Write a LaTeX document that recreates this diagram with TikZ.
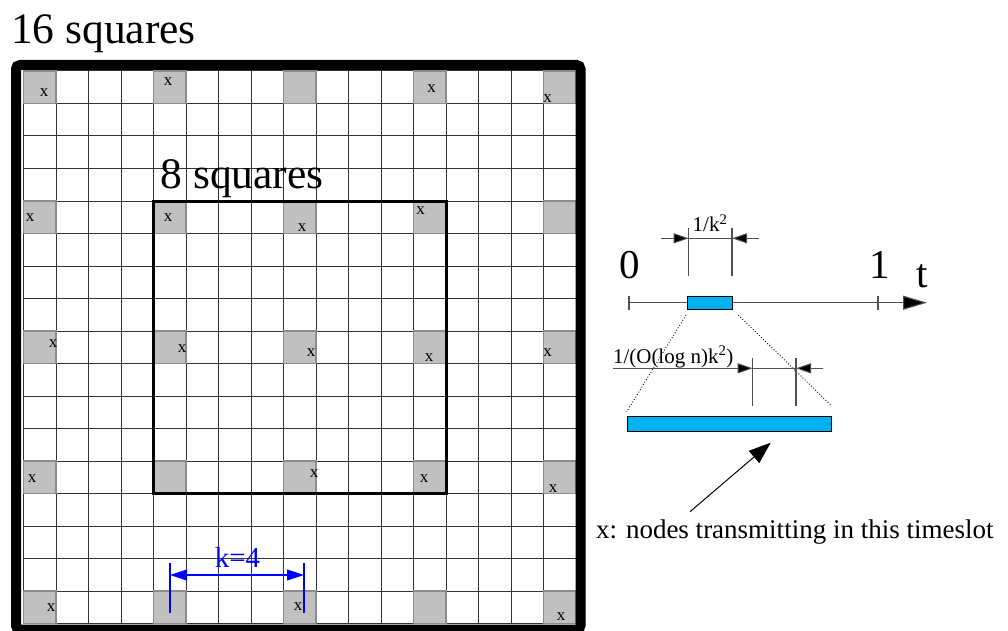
\documentclass[tikz,border=0pt]{standalone}
\usepackage{fontspec}
\setmainfont{Liberation Serif}
\usetikzlibrary{arrows.meta}
\definecolor{cellgray}{HTML}{C0C0C0}
\definecolor{cellborder}{HTML}{8C8C8C}
\definecolor{slotblue}{HTML}{00B0F0}
\definecolor{kblue}{HTML}{0000FF}
\definecolor{axisgray}{HTML}{505050}
\begin{document}
\begin{tikzpicture}[x=1pt,y=-1pt,
  lbl/.style={inner sep=0pt,outer sep=0pt},
  bigtext/.style={lbl,anchor=base west,font=\fontsize{43.5}{50}\selectfont},
  axtext/.style={lbl,anchor=base,font=\fontsize{41}{48}\selectfont},
  xlbl/.style={lbl,font=\fontsize{17}{20}\selectfont},
  dimtext/.style={lbl,font=\fontsize{21}{25}\selectfont},
  gridline/.style={draw=black!80,line width=1pt},
  cell/.style={fill=cellgray,draw=cellborder,line width=1.3pt},
  slot/.style={draw=black,fill=slotblue,line width=0.9pt,inner sep=0pt,outer sep=0pt},
  axisline/.style={draw=axisgray,line width=1.1pt},
  dimarrow/.style={draw=axisgray,line width=1pt,-{Triangle[length=15pt,width=10pt,fill=black]}},
  kdim/.style={draw=kblue,line width=1.1pt,{Triangle[length=17pt,width=11pt]}-{Triangle[length=17pt,width=11pt]}},
]
\path[use as bounding box,clip] (0,0) rectangle (1008,631);
\fill[white] (0,0) rectangle (1008,631);

% gray cells
\foreach \r in {0,4,8,12,16}{
  \foreach \c in {0,4,8,12,16}{
    \fill[cellgray] ({23.5+\c*32.5},{71+\r*32.5}) rectangle +(32.5,32.5);
  }
}
% grid
\foreach \i in {0,...,17}{
  \draw[gridline] ({23.5+\i*32.5},71) -- ({23.5+\i*32.5},623.5);
  \draw[gridline] (23.5,{71+\i*32.5}) -- (576,{71+\i*32.5});
}
% gray cell borders
\foreach \r in {0,4,8,12,16}{
  \foreach \c in {0,4,8,12,16}{
    \draw[cellborder,line width=1.3pt] ({23.5+\c*32.5},{71+\r*32.5}) rectangle +(32.5,32.5);
  }
}
% inner square
\draw[line width=3pt] (153.5,201) rectangle (446,493.5);
% outer frame
\draw[line width=10pt,rounded corners=4pt] (16,65) rectangle (580.5,629.5);

% x marks
\foreach \px/\py [count=\n] in {44/93,168/82,431.7/89,547.7/99,
   30/218,168/218,302/228,420.7/211,
   53/344,182/349,311/352.7,429/358,547.7/352.7,
   32/479,314/474,424/479,553/489,
   51/608,298/607,561/617}{
  \node[xlbl] (xm\n) at (\px,\py) {x};
}

% titles
\node[bigtext] (t16) at (11,43.3) {16 squares};
\node[bigtext] (t8) at (160.5,188.3) {8 squares};

% k=4 dimension
\coordinate (ka1) at (170,563);
\coordinate (ka2) at (170,613);
\coordinate (kb1) at (304,563);
\coordinate (kb2) at (304,613);
\coordinate (kl) at (170,575);
\coordinate (kr) at (304,575);
\draw[kblue,line width=1.1pt] (ka1) -- (ka2);
\draw[kblue,line width=1.1pt] (kb1) -- (kb2);
\draw[kdim] (kl) -- (kr);
\node[lbl,anchor=base,text=kblue,font=\fontsize{29}{34}\selectfont] (k4) at (237.5,567) {k=4};

% time axis
\coordinate (ax0) at (629,302.7);
\coordinate (axend) at (927,302.7);
\draw[axisline,-{Triangle[length=24pt,width=14pt,fill=black]}] (ax0) -- (axend);
\draw[axisline] (629,296) -- (629,310);
\draw[axisline] (878,296) -- (878,310);
\node[axtext] (lab0) at (629.7,278) {0};
\node[axtext] (lab1) at (880,278) {1};
\node[axtext] (labt) at (921.7,287) {t};

% small slot
\node[slot,minimum width=45.4pt,minimum height=13.3pt] (sbar) at (710,302.7) {};
% 1/k^2 dimension
\draw[axisline] (688.7,228) -- (688.7,276);
\draw[axisline] (732,228) -- (732,276);
\coordinate (d1l) at (661,238.3);
\coordinate (d1a) at (688.7,238.3);
\coordinate (d1b) at (732,238.3);
\coordinate (d1r) at (759,238.3);
\draw[axisline] (d1a) -- (d1b);
\draw[dimarrow] (d1l) -- (d1a);
\draw[dimarrow] (d1r) -- (d1b);
\node[dimtext,anchor=base] (k2) at (710,231.7) {1/k\textsuperscript{2}};

% zoom lines
\coordinate (z1a) at (686,315);
\coordinate (z1b) at (626.7,411.7);
\coordinate (z2a) at (738.3,315);
\coordinate (z2b) at (830.7,405);
\draw[dotted,line width=0.9pt] (z1a) -- (z1b);
\draw[dotted,line width=0.9pt] (z2a) -- (z2b);

% big slot
\node[slot,minimum width=204.4pt,minimum height=14.3pt] (bbar) at (729.5,423.85) {};

% second dimension
\draw[axisline] (752.7,358) -- (752.7,406);
\draw[axisline] (796,358) -- (796,406);
\coordinate (d2l) at (613,368.3);
\coordinate (d2a) at (752.7,368.3);
\coordinate (d2b) at (796,368.3);
\coordinate (d2r) at (822.7,368.3);
\draw[axisline] (d2a) -- (d2b);
\draw[dimarrow] (d2l) -- (d2a);
\draw[dimarrow] (d2r) -- (d2b);
\node[dimtext,anchor=base west] (logn) at (613,363.3) {1/(O(log n)k\textsuperscript{2})};

% legend and arrow
\node[lbl,anchor=base west,font=\fontsize{27}{32}\selectfont] (legend) at (596,538) {x: nodes transmitting in this timeslot};
\coordinate (arrtail) at (690,511.7);
\coordinate (arrtip) at (770.7,442.7);
\draw[line width=1pt,-{Triangle[length=22pt,width=16pt]}] (arrtail) -- (arrtip);
\end{tikzpicture}
\end{document}
